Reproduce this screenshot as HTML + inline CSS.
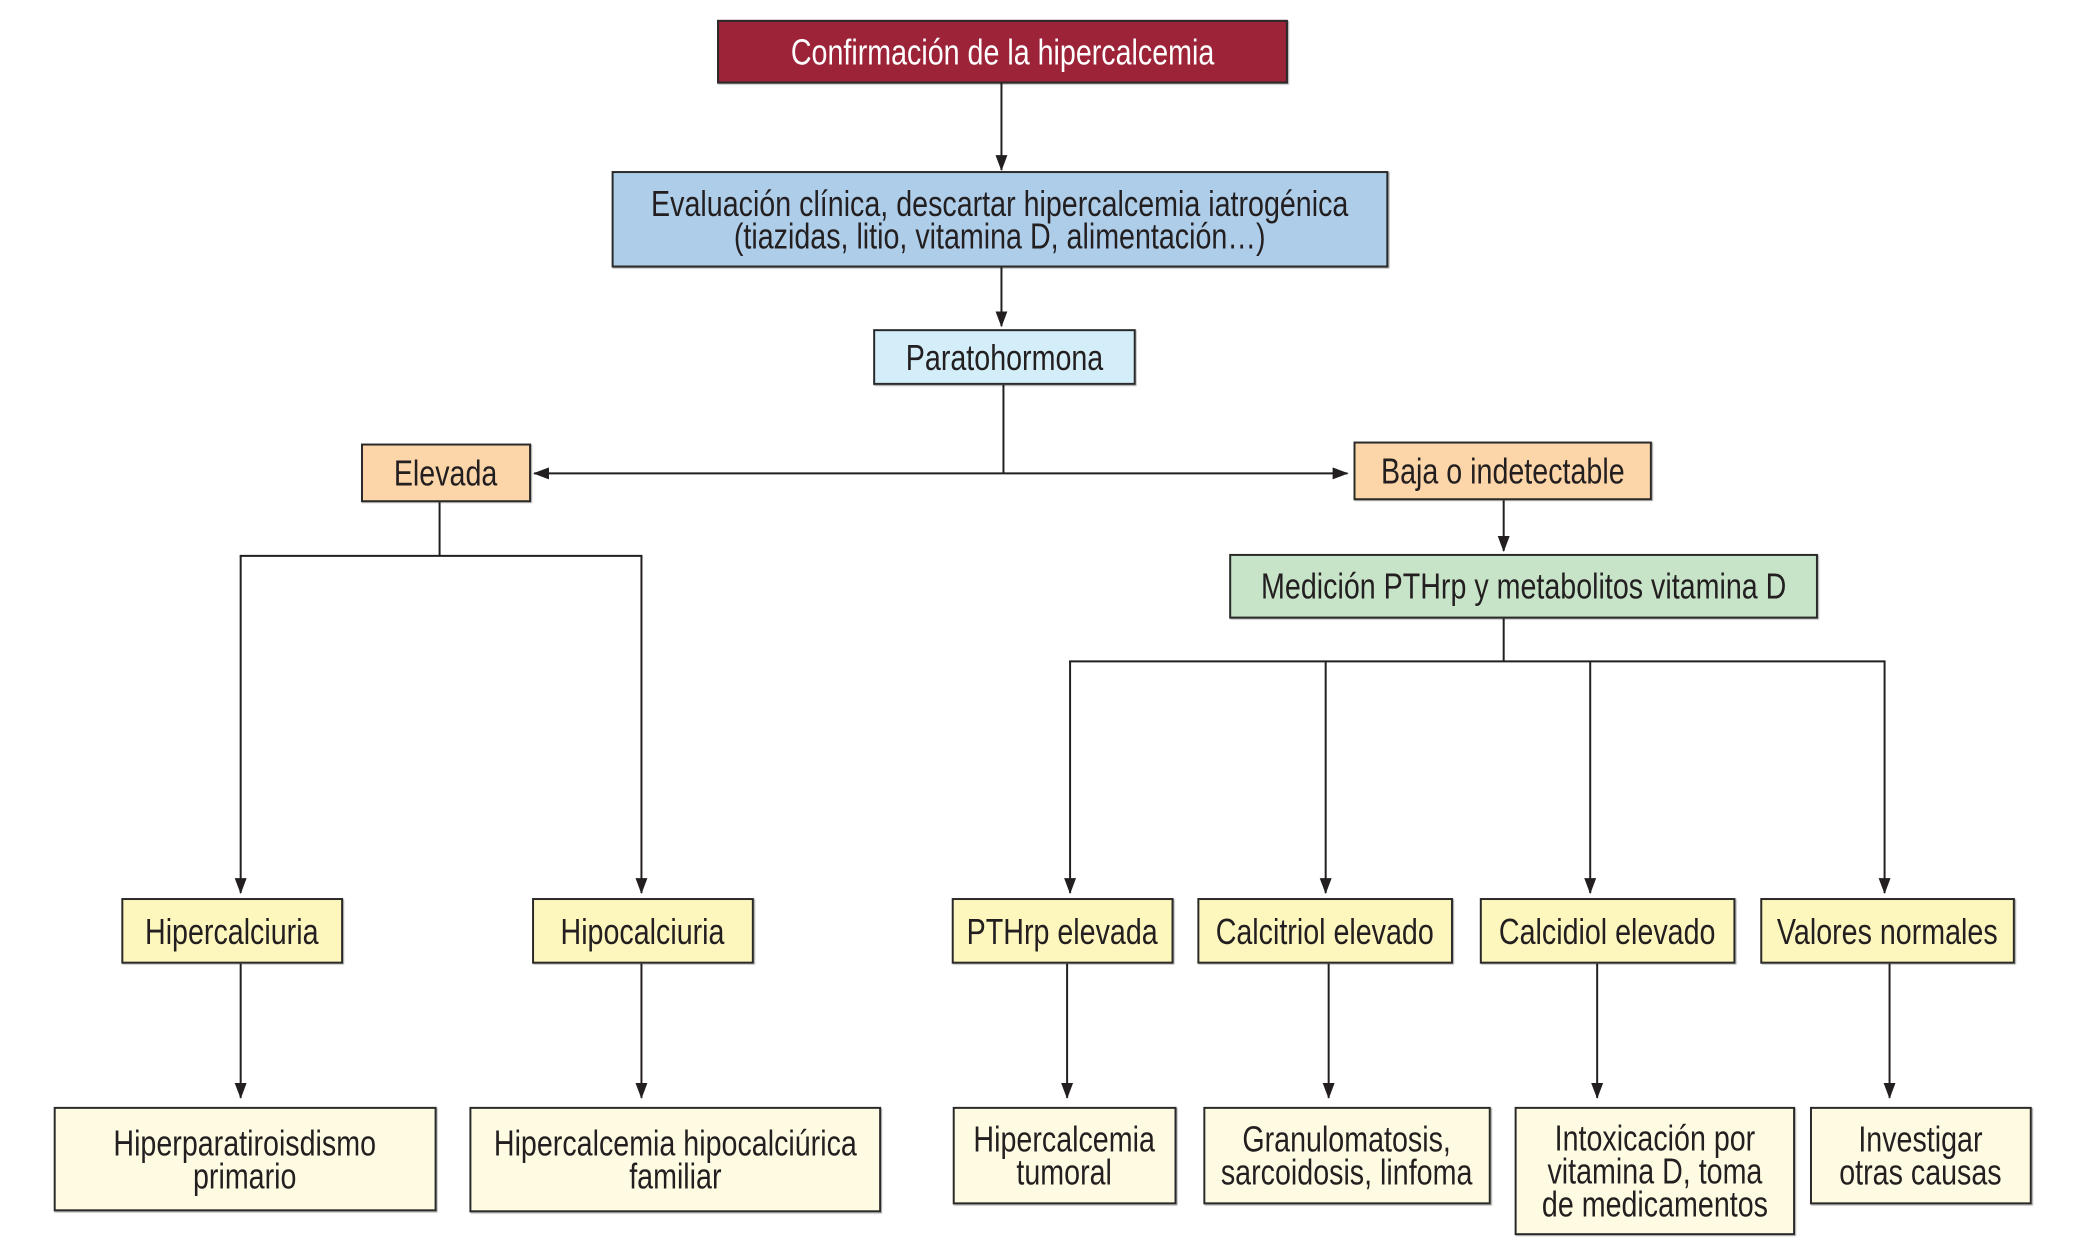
<!DOCTYPE html>
<html><head><meta charset="utf-8"><style>
body{margin:0;width:2087px;height:1254px;background:#fff;position:relative;overflow:hidden;font-family:"Liberation Sans",Arial,sans-serif;}
#w{position:absolute;left:0;top:0;width:2087px;height:1254px;transform:scale(0.9945);transform-origin:0 0;}
.b{position:absolute;box-sizing:border-box;border:2px solid #2a2a2a;display:flex;align-items:center;justify-content:center;text-align:center;color:#231f20;font-size:36px;line-height:33px;box-shadow:1px 1px 1px rgba(0,0,0,.35);}
.b span{display:inline-block;transform:scaleX(.8);white-space:nowrap;}
.y1{background:#fdf6bd}.y2{background:#fefbe2}.or{background:#fcd6a8}
svg{position:absolute;left:0;top:0}
</style></head><body><div id="w">
<svg width="2087" height="1254" viewBox="0 0 2087 1254">
<defs>
<marker id="a2" markerWidth="16" markerHeight="12" refX="15" refY="6" orient="auto" markerUnits="userSpaceOnUse"><path d="M0,0 L16,6 L0,12 z" fill="#231f20"/></marker></defs>
<g stroke="#231f20" stroke-width="2" fill="none">
<line x1="1007" y1="84" x2="1007" y2="171" marker-end="url(#a2)"/>
<line x1="1007" y1="269" x2="1007" y2="328" marker-end="url(#a2)"/>
<line x1="1009" y1="387" x2="1009" y2="476"/>
<line x1="1009" y1="476" x2="537" y2="476" marker-end="url(#a2)"/>
<line x1="1009" y1="476" x2="1355" y2="476" marker-end="url(#a2)"/>
<line x1="1512" y1="503" x2="1512" y2="554" marker-end="url(#a2)"/>
<line x1="1512" y1="622" x2="1512" y2="665"/>
<line x1="1075" y1="665" x2="1896" y2="665"/>
<line x1="1076" y1="665" x2="1076" y2="898" marker-end="url(#a2)"/>
<line x1="1333" y1="665" x2="1333" y2="898" marker-end="url(#a2)"/>
<line x1="1599" y1="665" x2="1599" y2="898" marker-end="url(#a2)"/>
<line x1="1895" y1="665" x2="1895" y2="898" marker-end="url(#a2)"/>
<line x1="442" y1="504" x2="442" y2="559"/>
<line x1="241" y1="559" x2="646" y2="559"/>
<line x1="242" y1="559" x2="242" y2="898" marker-end="url(#a2)"/>
<line x1="645" y1="559" x2="645" y2="898" marker-end="url(#a2)"/>
<line x1="242" y1="969" x2="242" y2="1104" marker-end="url(#a2)"/>
<line x1="645" y1="969" x2="645" y2="1104" marker-end="url(#a2)"/>
<line x1="1073" y1="969" x2="1073" y2="1104" marker-end="url(#a2)"/>
<line x1="1336" y1="969" x2="1336" y2="1104" marker-end="url(#a2)"/>
<line x1="1606" y1="969" x2="1606" y2="1104" marker-end="url(#a2)"/>
<line x1="1900" y1="969" x2="1900" y2="1104" marker-end="url(#a2)"/>
</g></svg>
<div class="b" style="left:721px;top:20px;width:574px;height:64px;background:#9d2338;color:#fff"><span>Confirmación de la hipercalcemia</span></div>
<div class="b" style="left:615px;top:172px;width:781px;height:97px;background:#aecde9"><span>Evaluación clínica, descartar hipercalcemia iatrogénica<br>(tiazidas, litio, vitamina D, alimentación…)</span></div>
<div class="b" style="left:878px;top:331px;width:264px;height:56px;background:#d3edf9"><span>Paratohormona</span></div>
<div class="b or" style="left:363px;top:446px;width:171px;height:59px"><span>Elevada</span></div>
<div class="b or" style="left:1361px;top:444px;width:300px;height:59px"><span>Baja o indetectable</span></div>
<div class="b" style="left:1236px;top:557px;width:592px;height:65px;background:#c7e4c8"><span>Medición PTHrp y metabolitos vitamina D</span></div>
<div class="b y1" style="left:122px;top:903px;width:223px;height:66px"><span>Hipercalciuria</span></div>
<div class="b y1" style="left:535px;top:903px;width:223px;height:66px"><span>Hipocalciuria</span></div>
<div class="b y1" style="left:957px;top:903px;width:223px;height:66px"><span>PTHrp elevada</span></div>
<div class="b y1" style="left:1204px;top:903px;width:257px;height:66px"><span>Calcitriol elevado</span></div>
<div class="b y1" style="left:1488px;top:903px;width:257px;height:66px"><span>Calcidiol elevado</span></div>
<div class="b y1" style="left:1770px;top:903px;width:256px;height:66px"><span>Valores normales</span></div>
<div class="b y2" style="left:54px;top:1113px;width:385px;height:105px"><span>Hiperparatiroisdismo<br>primario</span></div>
<div class="b y2" style="left:472px;top:1113px;width:414px;height:106px"><span>Hipercalcemia hipocalciúrica<br>familiar</span></div>
<div class="b y2" style="left:958px;top:1113px;width:225px;height:98px"><span>Hipercalcemia<br>tumoral</span></div>
<div class="b y2" style="left:1210px;top:1113px;width:289px;height:98px"><span>Granulomatosis,<br>sarcoidosis, linfoma</span></div>
<div class="b y2" style="left:1523px;top:1113px;width:282px;height:129px"><span>Intoxicación por<br>vitamina D, toma<br>de medicamentos</span></div>
<div class="b y2" style="left:1820px;top:1113px;width:223px;height:98px"><span>Investigar<br>otras causas</span></div>
</div></body></html>
